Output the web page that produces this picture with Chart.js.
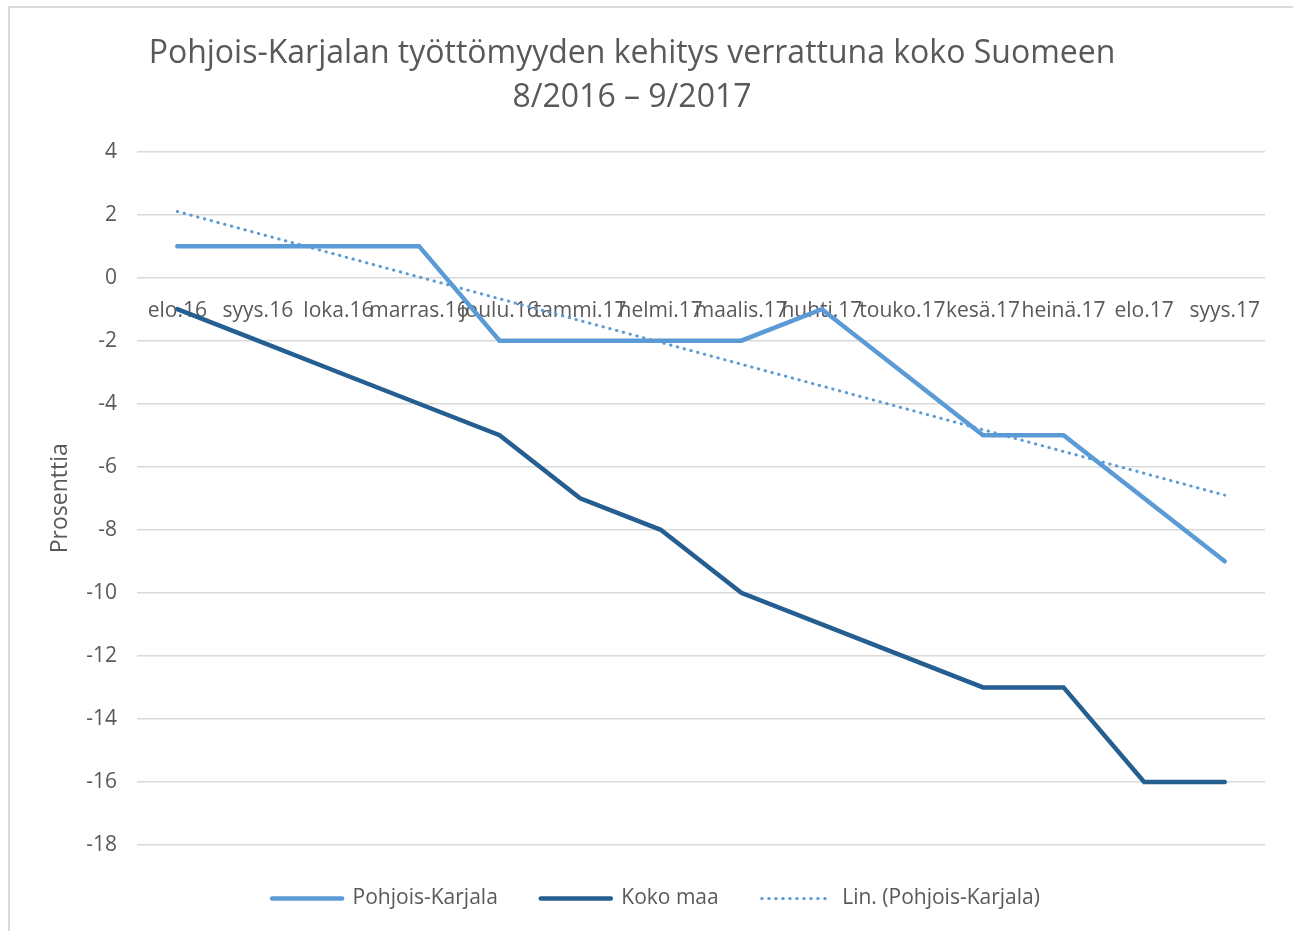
<!DOCTYPE html>
<html>
<head>
<meta charset="utf-8">
<script src="https://cdn.jsdelivr.net/npm/chart.js@4.4.1/dist/chart.umd.min.js"></script>
<style>
    html, body { margin: 0; padding: 0; background: #ffffff; overflow: hidden; }
    #wrap { position: absolute; left: 0; top: 0; width: 1293px; height: 931px; }
    #frame { position: absolute; left: 8px; top: 6px; width: 1400px; height: 1000px;
             border-left: 2px solid #d9d9d9; border-top: 2px solid #d9d9d9; pointer-events: none; }
</style>
</head>
<body>
<div id="wrap"><canvas id="chart" width="1293" height="931"></canvas></div>
<div id="frame"></div>
<script>
// kuukaudet
var months = ['elo.16', 'syys.16', 'loka.16', 'marras.16', 'joulu.16', 'tammi.17', 'helmi.17',
    'maalis.17', 'huhti.17', 'touko.17', 'kesä.17', 'heinä.17', 'elo.17', 'syys.17'];
var pohjoisKarjala = [1, 1, 1, 1, -2, -2, -2, -2, -1, -3, -5, -5, -7, -9];
var kokoMaa = [-1, -2, -3, -4, -5, -7, -8, -10, -11, -12, -13, -13, -16, -16];
// trendiviivan päätepisteet luettu kuvasta
var trendi = [2.1, null, null, null, null, null, null, null, null, null, null, null, null, -6.9];
var yTicks = [4, 2, 0, -2, -4, -6, -8, -10, -12, -14, -16, -18];

var grey = '#595959';
var font = 'Open Sans';

var ctx = document.getElementById('chart').getContext('2d');
new Chart(ctx, {
    type: 'line',
    data: {
        labels: months,
        datasets: [
            {
                label: 'Pohjois-Karjala',
                data: pohjoisKarjala,
                borderColor: '#5b9bd5',
                backgroundColor: '#5b9bd5',
                borderWidth: 4.5,
                borderCapStyle: 'round',
                pointRadius: 0,
                pointStyle: 'line',
                tension: 0
            },
            {
                label: 'Koko maa',
                data: kokoMaa,
                borderColor: '#255e91',
                backgroundColor: '#255e91',
                borderWidth: 4.5,
                borderCapStyle: 'round',
                pointRadius: 0,
                pointStyle: 'line',
                tension: 0
            },
            {
                label: 'Lin. (Pohjois-Karjala)',
                data: trendi,
                borderColor: '#5b9bd5',
                backgroundColor: '#5b9bd5',
                borderWidth: 3,
                borderDash: [0.5, 6.5],
                borderCapStyle: 'round',
                pointRadius: 0,
                pointStyle: 'line',
                spanGaps: true,
                tension: 0
            }
        ]
    },
    options: {
        responsive: false,
        animation: false,
        layout: { padding: { left: 47, right: 28, top: 0, bottom: 12 } },
        plugins: {
            title: {
                display: true,
                // lopun välilyönnit siirtävät otsikkoa vasemmalle kuten alkuperäisessä
                text: ['Pohjois-Karjalan työttömyyden kehitys verrattuna koko Suomeen\u2003\u2002',
                       '8/2016 – 9/2017\u2003\u2002'],
                color: grey,
                font: { family: font, size: 32, weight: 'normal', lineHeight: 1.4 },
                padding: { top: 31, bottom: 31 }
            },
            legend: {
                position: 'bottom',
                labels: {
                    usePointStyle: true,
                    pointStyleWidth: 70,
                    color: grey,
                    font: { family: font, size: 21 },
                    padding: 43,
                    generateLabels: function (chart) {
                        var items = Chart.defaults.plugins.legend.labels.generateLabels(chart);
                        items.forEach(function (item) {
                            var ds = chart.data.datasets[item.datasetIndex];
                            item.lineDash = ds.borderDash || [];
                            item.lineWidth = ds.borderWidth;
                            item.lineCap = 'round';
                            item.strokeStyle = ds.borderColor;
                        });
                        return items;
                    }
                }
            },
            tooltip: { enabled: false }
        },
        scales: {
            x: {
                position: { y: 0 },
                offset: true,
                grid: { display: false, drawTicks: false },
                border: { display: false },
                ticks: {
                    color: grey,
                    font: { family: font, size: 21 },
                    autoSkip: false,
                    maxRotation: 0,
                    minRotation: 0,
                    padding: 21
                }
            },
            y: {
                min: -18,
                max: 4,
                afterBuildTicks: function (scale) {
                    scale.ticks = yTicks.map(function (v) { return { value: v }; });
                },
                afterFit: function (scale) {
                    scale.width = 90;
                },
                grid: { color: '#d9d9d9', lineWidth: 1.5, drawTicks: false },
                border: { display: false },
                ticks: {
                    color: grey,
                    font: { family: font, size: 21 },
                    padding: 20
                },
                title: {
                    display: true,
                    text: 'Prosenttia',
                    color: grey,
                    font: { family: font, size: 23 },
                    padding: { top: 0, bottom: 8 }
                }
            }
        }
    }
});
</script>
</body>
</html>
